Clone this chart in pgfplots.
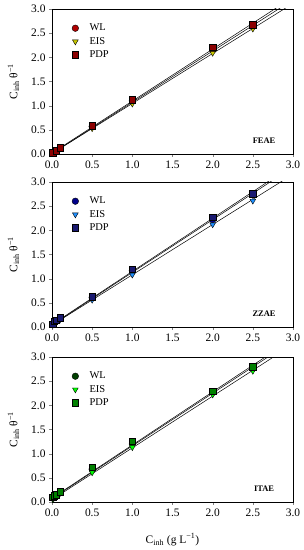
\documentclass[border=0pt]{standalone}
\usepackage{fontspec}
\setmainfont{Liberation Serif}
\usepackage{pgfplots}
\pgfplotsset{compat=1.18}
\definecolor{feWL}{HTML}{B00000}
\definecolor{feEIS}{HTML}{C8C800}
\definecolor{fePDP}{HTML}{8B0000}
\definecolor{zzWL}{HTML}{00008B}
\definecolor{zzEIS}{HTML}{1E90FF}
\definecolor{zzPDP}{HTML}{191970}
\definecolor{itWL}{HTML}{004000}
\definecolor{itEIS}{HTML}{00FF00}
\definecolor{itPDP}{HTML}{008000}
\pgfplotsset{
  panel/.style={
    scale only axis, width=241bp, height=145bp,
    xmin=0, xmax=3, ymin=0, ymax=3,
    xtick={0,0.5,...,3}, ytick={0,0.5,...,3},
    tick pos=left, tick align=outside,
    major tick length=3pt,
    /pgf/number format/assume math mode=true,
    /pgf/number format/fixed, /pgf/number format/fixed zerofill, /pgf/number format/precision=1,
    tick label style={font=\fontsize{11.5}{12}\selectfont},
    label style={font=\fontsize{11.5}{13}\selectfont},
    ylabel={C\textsubscript{inh} θ\textsuperscript{−1}},
    ylabel style={at={(axis description cs:-0.16,0.5)}, anchor=center},
    legend style={draw=none, fill=none, at={(axis description cs:0.07,0.925)}, anchor=north west,
      font=\fontsize{10.5}{11}\selectfont, row sep=1pt,
      /tikz/every odd column/.append style={column sep=9pt}},
    legend cell align=left,
    clip=true,
  },
  fitline/.style={black, line width=0.5pt, no marks, forget plot},
  mk/.style={only marks, mark size=3.3pt, mark options={draw=black, line width=0.3pt}},
}
\begin{document}
\begin{tikzpicture}
\useasboundingbox (0,0) rectangle (304bp,550bp);
% ---------- FEAE ----------
\begin{axis}[panel, at={(52bp,396bp)}, anchor=south west]
\addplot[fitline] coordinates {(0,0.01) (3,3.19)};
\addplot[fitline] coordinates {(0,0.01) (3,3.115)};
\addplot[fitline] coordinates {(0,0.02) (3,3.245)};
\addplot[mk, mark=*, mark options={fill=feWL}] coordinates {(0.01,0.02) (0.05,0.06) (0.1,0.12) (0.5,0.57) (1,1.10) (2,2.15) (2.5,2.65)};
\addlegendentry{WL}
\addplot[mk, mark=triangle*, mark options={fill=feEIS, rotate=180}] coordinates {(0.01,0.02) (0.05,0.06) (0.1,0.11) (0.5,0.53) (1,1.04) (2,2.09) (2.5,2.59)};
\addlegendentry{EIS}
\addplot[mk, mark=square*, mark options={fill=fePDP}] coordinates {(0.01,0.03) (0.05,0.07) (0.1,0.13) (0.5,0.59) (1,1.12) (2,2.21) (2.5,2.68)};
\addlegendentry{PDP}
\node[font=\bfseries\fontsize{8.5}{9}\selectfont] at (axis cs:2.64,0.27) {FEAE};
\end{axis}
% ---------- ZZAE ----------
\begin{axis}[panel, at={(52bp,223bp)}, anchor=south west]
\addplot[fitline] coordinates {(0,0.04) (3,3.31)};
\addplot[fitline] coordinates {(0,0.04) (3,3.16)};
\addplot[fitline] coordinates {(0,0.05) (3,3.35)};
\addplot[mk, mark=*, mark options={fill=zzWL}] coordinates {(0.01,0.05) (0.025,0.10) (0.05,0.12) (0.1,0.17) (0.5,0.61) (1,1.17) (2,2.22) (2.5,2.73)};
\addlegendentry{WL}
\addplot[mk, mark=triangle*, mark options={fill=zzEIS, rotate=180}] coordinates {(0.01,0.04) (0.025,0.08) (0.05,0.10) (0.1,0.15) (0.5,0.56) (1,1.08) (2,2.12) (2.5,2.61)};
\addlegendentry{EIS}
\addplot[mk, mark=square*, mark options={fill=zzPDP}] coordinates {(0.01,0.06) (0.025,0.12) (0.05,0.14) (0.1,0.19) (0.5,0.63) (1,1.20) (2,2.27) (2.5,2.76)};
\addlegendentry{PDP}
\node[font=\bfseries\fontsize{8.5}{9}\selectfont] at (axis cs:2.64,0.27) {ZZAE};
\end{axis}
% ---------- ITAE ----------
\begin{axis}[panel, at={(52bp,48bp)}, anchor=south west,
  xlabel={C\textsubscript{inh} (g L\textsuperscript{−1})},
  xlabel style={at={(axis description cs:0.5,-0.26)}, anchor=center}]
\addplot[fitline] coordinates {(0,0.07) (3,3.34)};
\addplot[fitline] coordinates {(0,0.05) (3,3.26)};
\addplot[fitline] coordinates {(0,0.08) (3,3.38)};
\addplot[mk, mark=*, mark options={fill=itWL}] coordinates {(0.01,0.08) (0.025,0.11) (0.05,0.14) (0.1,0.20) (0.5,0.68) (1,1.20) (2,2.27) (2.5,2.78)};
\addlegendentry{WL}
\addplot[mk, mark=triangle*, mark options={fill=itEIS, rotate=180}] coordinates {(0.01,0.06) (0.025,0.09) (0.05,0.12) (0.1,0.18) (0.5,0.61) (1,1.13) (2,2.22) (2.5,2.71)};
\addlegendentry{EIS}
\addplot[mk, mark=square*, mark options={fill=itPDP}] coordinates {(0.01,0.10) (0.025,0.13) (0.05,0.15) (0.1,0.21) (0.5,0.72) (1,1.26) (2,2.29) (2.5,2.80)};
\addlegendentry{PDP}
\node[font=\bfseries\fontsize{8.5}{9}\selectfont] at (axis cs:2.64,0.27) {ITAE};
\end{axis}
\end{tikzpicture}
\end{document}
